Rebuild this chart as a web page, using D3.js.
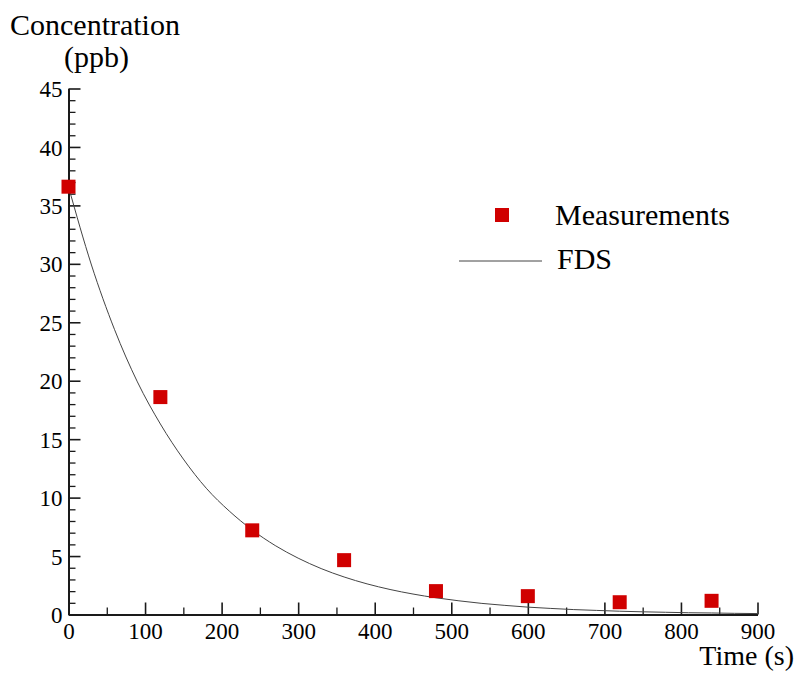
<!DOCTYPE html>
<html>
<head>
<meta charset="utf-8">
<script src="https://cdn.jsdelivr.net/npm/d3@7"></script>
<style>
  body { margin: 0; background: #fff; }
</style>
</head>
<body>
<div id="chart"></div>
<script>
// measured concentrations
const measTime = [0, 120, 240, 360, 480, 600, 720, 840];
const measConc = [36.6, 18.6, 7.2, 4.65, 2.0, 1.57, 1.05, 1.17];

// FDS prediction
const fdsTime = [0, 30, 60, 90, 120, 150, 180, 210, 240, 270, 300, 330, 360, 390, 420, 450,
  480, 510, 540, 570, 600, 630, 660, 690, 720, 750, 780, 810, 840, 870, 900];
const fdsConc = [36.6, 29.9, 24.4, 19.9, 16.3, 13.3, 10.8, 8.85, 7.23, 5.9, 4.82, 3.93, 3.21, 2.62, 2.14, 1.75,
  1.43, 1.17, 0.95, 0.78, 0.63, 0.52, 0.42, 0.35, 0.28, 0.23, 0.19, 0.15, 0.13, 0.1, 0.08];

const xTicks = [0, 100, 200, 300, 400, 500, 600, 700, 800, 900];
const yTicks = [0, 5, 10, 15, 20, 25, 30, 35, 40, 45];

const FONT = '"Liberation Serif", "Times New Roman", Times, serif';

const W = 796, H = 673;
const margin = {top: 88.5, right: 38.5, bottom: 58.5, left: 68.5};
const width = W - margin.left - margin.right;
const height = H - margin.top - margin.bottom;

const svg = d3.select('#chart').append('svg')
  .attr('width', W)
  .attr('height', H)
  .attr('font-family', FONT);

const g = svg.append('g')
  .attr('transform', `translate(${margin.left}, ${margin.top})`);

const x = d3.scaleLinear().domain([0, 900]).range([0, width]);
const y = d3.scaleLinear().domain([0, 45]).range([height, 0]);

// minor ticks first, inward
g.append('g')
  .attr('transform', `translate(0, ${height})`)
  .call(d3.axisTop(x).tickValues(d3.range(50, 900, 100)).tickSize(7).tickFormat(''))
  .call(a => a.select('.domain').remove())
  .call(a => a.selectAll('line').attr('stroke', '#1a1a1a').attr('stroke-width', 1.3));

g.append('g')
  .call(d3.axisRight(y).tickValues(d3.range(0, 45.1, 1).filter(v => v % 5 !== 0)).tickSize(7).tickFormat(''))
  .call(a => a.select('.domain').remove())
  .call(a => a.selectAll('line').attr('stroke', '#1a1a1a').attr('stroke-width', 1.3));

// major ticks
const xAxis = g.append('g')
  .attr('transform', `translate(0, ${height})`)
  .call(d3.axisTop(x).tickValues(xTicks).tickSize(12).tickSizeOuter(0))
  .attr('font-family', FONT)
  .attr('font-size', 23);
xAxis.selectAll('line').attr('stroke', '#1a1a1a').attr('stroke-width', 1.6);
xAxis.select('.domain').attr('stroke', '#1a1a1a').attr('stroke-width', 2);
xAxis.selectAll('text')
  .attr('fill', '#000')
  .attr('y', 24)
  .attr('dy', 0);

const yAxis = g.append('g')
  .call(d3.axisRight(y).tickValues(yTicks).tickSize(12).tickSizeOuter(0))
  .attr('font-family', FONT)
  .attr('font-size', 23);
yAxis.selectAll('line').attr('stroke', '#1a1a1a').attr('stroke-width', 1.6);
yAxis.select('.domain').attr('stroke', '#1a1a1a').attr('stroke-width', 2);
yAxis.selectAll('text')
  .attr('fill', '#000')
  .attr('x', -6)
  .attr('text-anchor', 'end')
  .attr('dy', '0.35em');

// FDS curve
const fds = fdsTime.map((t, i) => ({t: t, c: fdsConc[i]}));
g.append('path')
  .datum(fds)
  .attr('fill', 'none')
  .attr('stroke', '#444')
  .attr('stroke-width', 1)
  .attr('d', d3.line().x(d => x(d.t)).y(d => y(d.c)).curve(d3.curveMonotoneX));

// measurements
const sq = 14;
g.selectAll('.meas')
  .data(measTime.map((t, i) => ({t: t, c: measConc[i]})))
  .enter()
  .append('rect')
  .attr('class', 'meas')
  .attr('x', d => x(d.t) - sq / 2)
  .attr('y', d => y(d.c) - sq / 2)
  .attr('width', sq)
  .attr('height', sq)
  .attr('fill', '#d00000');

// axis titles
svg.append('text').attr('x', 10).attr('y', 35).attr('font-size', 30).text('Concentration');
svg.append('text').attr('x', 64).attr('y', 67).attr('font-size', 30).text('(ppb)');
svg.append('text').attr('x', 794).attr('y', 665).attr('text-anchor', 'end').attr('font-size', 28).text('Time (s)');

// legend
svg.append('rect').attr('x', 495).attr('y', 208).attr('width', 14).attr('height', 14).attr('fill', '#d00000');
svg.append('text').attr('x', 555).attr('y', 225).attr('font-size', 30).text('Measurements');
svg.append('line').attr('x1', 459).attr('x2', 542).attr('y1', 261).attr('y2', 261)
  .attr('stroke', '#444').attr('stroke-width', 1);
svg.append('text').attr('x', 557).attr('y', 269).attr('font-size', 30).text('FDS');
</script>
</body>
</html>
